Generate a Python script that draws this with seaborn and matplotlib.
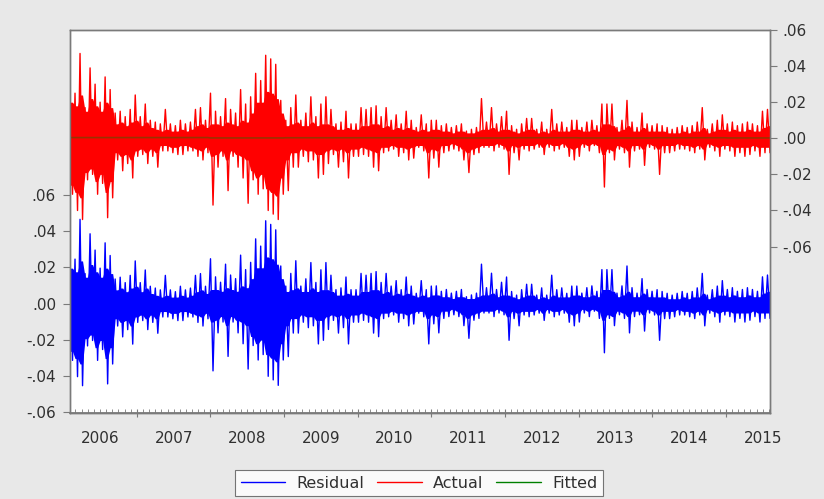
import numpy as np
import pandas as pd
import matplotlib
matplotlib.use("Agg")
import matplotlib.pyplot as plt
import seaborn as sns
from matplotlib.lines import Line2D
from matplotlib.ticker import MultipleLocator

# ---------------- data ----------------
# Actual series: per ~3-week window, the highest and lowest daily value
actual_high = [
    .027, .025, .047, .017, .039, .030, .020, .034, .027, .014,
    .015, .012, .016, .024, .012, .019, .010, .009, .008, .016,
    .008, .007, .010, .008, .009, .016, .017, .010, .025, .015,
    .012, .022, .016, .014, .027, .019, .023, .036, .032, .046,
    .044, .041, .021, .010, .017, .024, .010, .014, .023, .012,
    .019, .023, .016, .008, .009, .015, .008, .008, .017, .016,
    .017, .018, .012, .017, .010, .013, .008, .015, .010, .006,
    .013, .008, .010, .010, .007, .008, .006, .007, .008, .004,
    .005, .006, .022, .009, .017, .008, .012, .015, .007, .005,
    .008, .011, .011, .005, .009, .005, .016, .008, .009, .006,
    .010, .010, .006, .009, .010, .007, .019, .019, .019, .006,
    .010, .021, .009, .006, .014, .008, .007, .008, .007, .006,
    .005, .006, .007, .006, .007, .009, .017, .005, .008, .010,
    .013, .008, .009, .007, .008, .009, .008, .007, .015, .016,
]
actual_low = [
    -.031, -.040, -.045, -.023, -.020, -.031, -.025, -.044, -.033, -.012,
    -.018, -.014, -.022, -.010, -.009, -.014, -.010, -.016, -.007, -.007,
    -.008, -.009, -.009, -.007, -.007, -.010, -.012, -.008, -.037, -.016,
    -.010, -.029, -.010, -.016, -.022, -.036, -.023, -.031, -.028, -.040,
    -.042, -.045, -.031, -.029, -.016, -.016, -.010, -.013, -.012, -.022,
    -.020, -.014, -.009, -.016, -.013, -.022, -.010, -.010, -.009, -.010,
    -.016, -.018, -.008, -.007, -.006, -.010, -.008, -.012, -.011, -.005,
    -.007, -.022, -.011, -.016, -.008, -.007, -.006, -.007, -.012, -.019,
    -.009, -.008, -.005, -.005, -.007, -.005, -.006, -.020, -.008, -.012,
    -.006, -.007, -.006, -.005, -.009, -.005, -.007, -.006, -.005, -.010,
    -.012, -.010, -.005, -.007, -.004, -.008, -.027, -.008, -.012, -.006,
    -.008, -.016, -.007, -.006, -.015, -.005, -.006, -.020, -.008, -.008,
    -.007, -.006, -.006, -.007, -.008, -.006, -.012, -.005, -.007, -.010,
    -.006, -.007, -.010, -.008, -.010, -.009, -.007, -.010, -.008, -.008,
]
# Extent of the dense (solid) part of the trace in the same windows
core_high = [
    .020, .018, .024, .015, .022, .018, .015, .020, .017, .008,
    .009, .007, .009, .010, .007, .009, .006, .005, .004, .005,
    .004, .004, .005, .004, .005, .007, .008, .006, .008, .008,
    .007, .009, .008, .007, .010, .009, .014, .020, .020, .026,
    .025, .022, .014, .007, .008, .009, .007, .007, .009, .007,
    .008, .008, .007, .005, .005, .006, .005, .005, .007, .007,
    .008, .008, .006, .007, .005, .006, .005, .006, .005, .004,
    .005, .004, .005, .005, .004, .004, .003, .004, .004, .003,
    .003, .004, .005, .005, .006, .004, .005, .005, .004, .003,
    .004, .005, .005, .003, .004, .003, .005, .004, .004, .004,
    .005, .005, .004, .004, .005, .004, .008, .008, .007, .004,
    .005, .007, .004, .004, .006, .004, .004, .004, .004, .003,
    .003, .003, .004, .003, .004, .004, .006, .003, .004, .005,
    .005, .004, .005, .004, .004, .005, .004, .004, .006, .007,
]
core_low = [
    -.026, -.030, -.033, -.019, -.017, -.024, -.020, -.030, -.024, -.008,
    -.010, -.009, -.012, -.007, -.006, -.008, -.006, -.008, -.004, -.004,
    -.005, -.005, -.004, -.004, -.005, -.006, -.007, -.005, -.010, -.009,
    -.007, -.012, -.007, -.009, -.010, -.012, -.018, -.022, -.020, -.028,
    -.030, -.032, -.022, -.012, -.008, -.008, -.006, -.007, -.007, -.009,
    -.009, -.007, -.006, -.007, -.006, -.008, -.006, -.006, -.005, -.006,
    -.007, -.008, -.005, -.005, -.004, -.005, -.005, -.006, -.005, -.004,
    -.004, -.008, -.006, -.007, -.004, -.004, -.003, -.004, -.006, -.008,
    -.006, -.005, -.004, -.004, -.004, -.003, -.004, -.007, -.004, -.005,
    -.004, -.004, -.004, -.003, -.005, -.003, -.004, -.004, -.003, -.005,
    -.006, -.005, -.003, -.004, -.003, -.004, -.009, -.006, -.007, -.004,
    -.005, -.007, -.004, -.004, -.006, -.003, -.004, -.006, -.004, -.004,
    -.004, -.003, -.004, -.004, -.005, -.004, -.006, -.003, -.004, -.005,
    -.004, -.004, -.005, -.005, -.005, -.005, -.004, -.005, -.005, -.005,
]
# Fitted values (almost flat, close to zero) by calendar year
fitted_years = [2006, 2007, 2008, 2009, 2010, 2011, 2012, 2013, 2014, 2015]
fitted_level = [.0004, .0004, .0002, .0003, .0003, .0002, .0003, .0002, .0003, .0002]

year_ticks = [2006, 2007, 2008, 2009, 2010, 2011, 2012, 2013, 2014, 2015]
year_labels = ['2006', '2007', '2008', '2009', '2010', '2011', '2012', '2013', '2014', '2015']
y_ticks = [-0.06, -0.04, -0.02, 0.0, 0.02, 0.04, 0.06]
y_labels = ['-.06', '-.04', '-.02', '.00', '.02', '.04', '.06']
sample_start = 2006.092
sample_end = 2015.600

# ---------------- build frame ----------------
actual = np.column_stack([actual_high, actual_low]).ravel()
bin_hi = np.repeat(actual_high, 2)
bin_lo = np.repeat(actual_low, 2)
t = np.linspace(sample_start, sample_end, len(actual))
fit_map = dict(zip(fitted_years, fitted_level))
fitted = np.array([fit_map[int(v)] for v in t])
residual = actual - fitted
band_hi = np.minimum(np.repeat(core_high, 2), bin_hi)
band_lo = np.maximum(np.repeat(core_low, 2), bin_lo)
df = pd.DataFrame({'t': t, 'Residual': residual, 'Actual': actual, 'Fitted': fitted,
                   'band_hi': band_hi, 'band_lo': band_lo})

# ---------------- plot ----------------
sns.set_theme(style="white")
plt.rcParams['font.family'] = ['DejaVu Sans']

BG = '#e8e8e8'
TXT = '#303030'
SP = '#7a7a7a'
W, H = 824, 499
fig = plt.figure(figsize=(W / 100, H / 100), dpi=100, facecolor=BG)
ax = fig.add_axes([70 / W, 1 - 413 / H, 700 / W, 383 / H])
ax.set_facecolor('white')
ax2 = ax.twinx()

BLUE, RED, GREEN = '#0000ff', '#ff0000', '#008000'

ax.fill_between(df['t'], df['band_lo'] - df['Fitted'], df['band_hi'] - df['Fitted'],
                color=BLUE, lw=0)
sns.lineplot(data=df, x='t', y='Residual', ax=ax, color=BLUE, lw=1.0,
             estimator=None, sort=False, legend=False)
ax2.fill_between(df['t'], df['band_lo'], df['band_hi'], color=RED, lw=0)
sns.lineplot(data=df, x='t', y='Actual', ax=ax2, color=RED, lw=1.0,
             estimator=None, sort=False, legend=False)
sns.lineplot(data=df, x='t', y='Fitted', ax=ax2, color=GREEN, lw=1.2, alpha=0.4,
             estimator=None, sort=False, legend=False)

ax.set_xlim(sample_start, sample_end)
ax.set_ylim(-0.0605, 0.1513)
ax2.set_ylim(-0.1522, 0.0600)

for a in (ax, ax2):
    a.set_xlabel('')
    a.set_ylabel('')
    for s in a.spines.values():
        s.set_color(SP)
        s.set_linewidth(1.0)

ax.set_yticks(y_ticks, labels=y_labels)
ax2.set_yticks(y_ticks, labels=y_labels)
ax.tick_params(axis='y', which='major', direction='out', length=5, width=0.8,
               color=SP, labelsize=11, labelcolor=TXT, pad=5, left=True)
ax2.tick_params(axis='y', which='major', direction='out', length=5, width=0.8,
                color=SP, labelsize=11, labelcolor=TXT, pad=4, right=True)

# year labels centred in each year
ax.set_xticks([y + 0.5 for y in year_ticks], labels=year_labels)
ax.tick_params(axis='x', which='major', length=0, labelsize=11, labelcolor=TXT, pad=13)

# year boundary ticks and monthly minor ticks
sec = ax.secondary_xaxis('bottom')
sec.set_xticks(year_ticks[1:], labels=['' for _ in year_ticks[1:]])
sec.xaxis.set_minor_locator(MultipleLocator(1 / 12))
sec.tick_params(axis='x', which='major', direction='inout', length=6, width=0.8, color=SP)
sec.tick_params(axis='x', which='minor', direction='in', length=3, width=0.6, color=SP)
sec.spines['bottom'].set_color(SP)

handles = [Line2D([], [], color=BLUE, lw=1.0),
           Line2D([], [], color=RED, lw=1.0),
           Line2D([], [], color=GREEN, lw=1.0)]
leg = fig.legend(handles, ['Residual', 'Actual', 'Fitted'], loc='center',
                 bbox_to_anchor=(419 / W, 1 - 483 / H), ncol=3, frameon=True,
                 fancybox=False, edgecolor='#555555', facecolor='white',
                 handlelength=2.8, handletextpad=0.7, columnspacing=0.8,
                 borderpad=0.35, fontsize=11.5)
leg.get_frame().set_linewidth(0.8)
for txt in leg.get_texts():
    txt.set_color(TXT)

fig.savefig('out.png', dpi=100, facecolor=BG)
